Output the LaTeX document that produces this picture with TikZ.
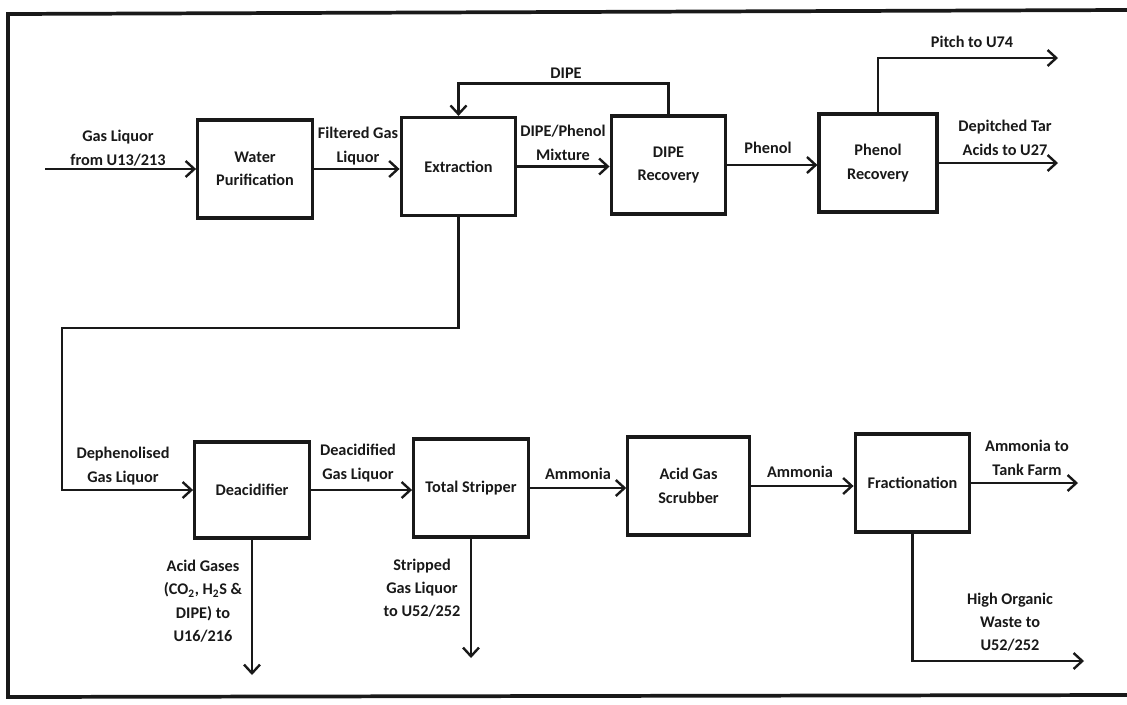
\documentclass[tikz,border=0pt]{standalone}
\usepackage{fontspec}
\setmainfont{Carlito}
\usetikzlibrary{arrows.meta}

\begin{document}
\begin{tikzpicture}[x=0.75pt, y=-0.75pt,
  font=\fontsize{12.2}{17.5}\selectfont\bfseries,
  unit/.style={draw=black!90, line width=2.4pt, minimum width=86pt, minimum height=73.5pt, align=center, text=black!90},
  flow/.style={draw=black!90, line width=1.8pt, -{Straight Barb[length=6.5pt,width=12pt]}},
  lbl/.style={align=center, text=black!90}]
  \useasboundingbox (0,0) rectangle (1127,704);
  \draw[line width=2.8pt, black!90] (1127,10) -- (8,14) -- (8,697) -- (1127,695);

  % Top row: units
  \node[unit] (wp) at (255,169) {Water\\Purification};
  \node[unit] (extr) at (458.5,166.5) {Extraction};
  \node[unit] (dipe) at (668.5,165) {DIPE\\Recovery};
  \node[unit, minimum width=88.5pt] (pr) at (878,163) {Phenol\\Recovery};

  % Bottom row: units
  \node[unit, minimum height=72pt] (deac) at (252,490) {Deacidifier};
  \node[unit] (ts) at (471,488) {Total Stripper};
  \node[unit, minimum width=91pt] (ags) at (688.5,486) {Acid Gas\\Scrubber};
  \node[unit] (frac) at (912.5,483) {Fractionation};

  % free ends
  \coordinate (gasin) at (45,169);
  \coordinate (pitch) at (1058,58);
  \coordinate (tar) at (1058,163);
  \coordinate (bend) at (62,328);
  \coordinate (acid) at (252,675);
  \coordinate (strip) at (471,658);
  \coordinate (tank) at (1078,483);
  \coordinate (waste) at (1084,661);

  % Top row: streams
  \draw[flow] (gasin) -- (wp.west);
  \draw[flow] (wp.east) -- (wp.east -| extr.west);
  \draw[flow] (extr.east) -- (extr.east -| dipe.west);
  \draw[flow] (dipe.north) -- ++(0,-31) -| (extr.north);
  \draw[flow] (dipe.east) -- (dipe.east -| pr.west);
  \draw[flow] (pr.north) |- (pitch);
  \draw[flow] (pr.east) -- (tar);

  % Bottom row: streams
  \draw[flow] (extr.south) |- (bend) |- (deac.west);
  \draw[flow] (deac.east) -- (deac.east -| ts.west);
  \draw[flow] (deac.south) -- (acid);
  \draw[flow] (ts.east) -- (ts.east -| ags.west);
  \draw[flow] (ts.south) -- (strip);
  \draw[flow] (ags.east) -- (ags.east -| frac.west);
  \draw[flow] (frac.east) -- (tank);
  \draw[flow] (frac.south) |- (waste);

  % Stream labels
  \node[lbl] (gasliq) at (118,148) {Gas Liquor\\from U13/213};
  \node[lbl] (filt) at (358,146) {Filtered Gas\\Liquor};
  \node[lbl] (dipelbl) at (566,73) {DIPE};
  \node[lbl] (mix) at (563,143) {DIPE/Phenol\\Mixture};
  \node[lbl] (phen) at (768,148) {Phenol};
  \node[lbl] (pitchlbl) at (972,42) {Pitch to U74};
  \node[lbl] (tarlbl) at (1005,138) {Depitched Tar\\Acids to U27};
  \node[lbl] (dephen) at (123,466) {Dephenolised\\Gas Liquor};
  \node[lbl] (deacid) at (358,463) {Deacidified\\Gas Liquor};
  \node[lbl] (acidlbl) at (203,601) {Acid Gases\\(CO\textsubscript{2}, H\textsubscript{2}S \&\\DIPE) to\\U16/216};
  \node[lbl] (striplbl) at (422,588) {Stripped\\Gas Liquor\\to U52/252};
  \node[lbl] (amm1) at (578,474) {Ammonia};
  \node[lbl] (amm2) at (800,472) {Ammonia};
  \node[lbl] (tanklbl) at (1027,458) {Ammonia to\\Tank Farm};
  \node[lbl] (wastelbl) at (1010,622) {High Organic\\Waste to\\U52/252};
\end{tikzpicture}
\end{document}
